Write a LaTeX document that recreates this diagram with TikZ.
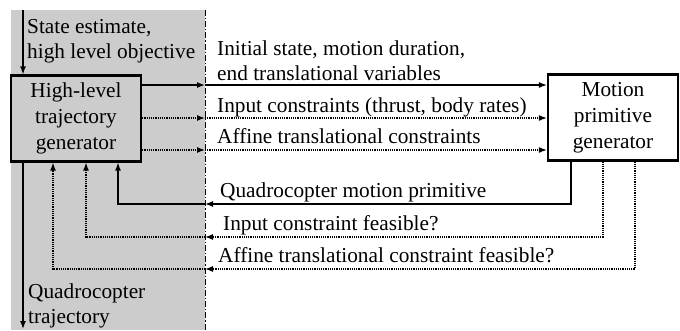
\documentclass[tikz,border=0pt]{standalone}
\usepackage{fontspec}
\setmainfont{Liberation Serif}
\usetikzlibrary{arrows.meta}
\definecolor{regiongray}{RGB}{204,204,204}
\begin{document}
\begin{tikzpicture}[x=1pt,y=-1pt,
  every node/.style={font=\fontsize{21.3}{26}\selectfont},
  blockbox/.style={draw,line width=2.2pt,minimum width=130pt,minimum height=86pt,inner sep=0pt,align=center},
  lbl/.style={anchor=base west,inner sep=0pt},
  arr/.style={line width=1.3pt,-{Latex[length=8pt,width=6pt]}},
  dotarr/.style={arr,dash pattern=on 1.2pt off 1pt},
  plainline/.style={line width=1.3pt},
  dotline/.style={line width=1.3pt,dash pattern=on 1.2pt off 1pt}]
\useasboundingbox (0,0) rectangle (680,330);
\fill[regiongray] (11,10) rectangle (205,330);
\draw[line width=1pt,dash pattern=on 6pt off 2pt on 1.2pt off 2pt] (205,10) -- (205,330);

\node[blockbox,fill=regiongray] (hl) at (76,118.5) {High-level\\trajectory\\generator};
\node[blockbox,fill=white] (mp) at (613,117.5) {Motion\\primitive\\generator};

% top input and bottom output
\coordinate (tin) at (23,10);
\coordinate (bout) at (23,329);
\draw[arr] (tin) -- (tin |- hl.north);
\draw[arr] (hl.south -| bout) -- (bout);
\node[lbl] (t1) at (27,33) {State estimate,};
\node[lbl] (t2) at (27,58) {high level objective};
\node[lbl] (b1) at (28,298) {Quadrocopter};
\node[lbl] (b2) at (28,323) {trajectory};

% forward arrows
\coordinate (f1) at (205,85);
\coordinate (f2) at (205,118);
\coordinate (f3) at (205,150);
\draw[arr] (hl.east |- f1) -- (f1);
\draw[arr] (f1) -- (mp.west |- f1);
\draw[dotarr] (hl.east |- f2) -- (f2);
\draw[dotarr] (f2) -- (mp.west |- f2);
\draw[dotarr] (hl.east |- f3) -- (f3);
\draw[dotarr] (f3) -- (mp.west |- f3);
\node[lbl] (l1) at (217,55) {Initial state, motion duration,};
\node[lbl] (l2) at (217,80) {end translational variables};
\node[lbl] (l3) at (217,112) {Input constraints (thrust, body rates)};
\node[lbl] (l4) at (217,143) {Affine translational constraints};

% return arrows
\coordinate (r1) at (205,204);
\coordinate (r2) at (205,237);
\coordinate (r3) at (205,269);
\coordinate (rx1) at (571,204);
\coordinate (rx2) at (603,237);
\coordinate (rx3) at (635,269);
\coordinate (lx1) at (118,204);
\coordinate (lx2) at (86,237);
\coordinate (lx3) at (53,269);
\draw[arr] (mp.south -| rx1) -- (rx1) -- (r1);
\draw[arr] (r1) -- (lx1) -- (hl.south -| lx1);
\draw[dotarr] (mp.south -| rx2) -- (rx2) -- (r2);
\draw[dotarr] (r2) -- (lx2) -- (hl.south -| lx2);
\draw[dotarr] (mp.south -| rx3) -- (rx3) -- (r3);
\draw[dotarr] (r3) -- (lx3) -- (hl.south -| lx3);
\node[lbl] (l5) at (220,197) {Quadrocopter motion primitive};
\node[lbl] (l6) at (223,230) {Input constraint feasible?};
\node[lbl] (l7) at (218,262) {Affine translational constraint feasible?};
\end{tikzpicture}
\end{document}
